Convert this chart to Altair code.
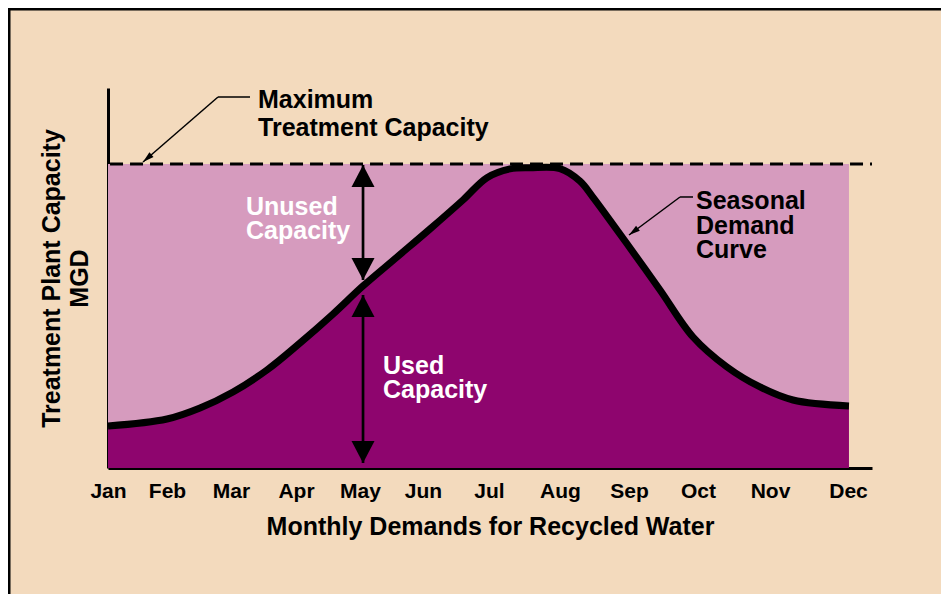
import altair as alt
import pandas as pd

# ---- data ----
months = ["Jan", "Feb", "Mar", "Apr", "May", "Jun", "Jul", "Aug", "Sep", "Oct", "Nov", "Dec"]
month_pos = [0, 0.876, 1.826, 2.791, 3.741, 4.676, 5.656, 6.710, 7.735, 8.759, 9.828, 10.986]

curve_x = [0, 0.876, 1.366, 1.856, 2.360, 2.850, 3.340, 3.786, 4.290, 4.780, 5.270, 5.626,
           5.968, 6.265, 6.710, 7.007, 7.198, 7.705, 8.195, 8.685, 9.189, 9.679, 10.169, 11.0]
curve_y = [11.05, 12.89, 15.79, 20.0, 25.79, 32.89, 40.5, 47.9, 55.5, 62.9, 70.53, 76.4,
           78.7, 79.0, 78.8, 75.5, 71.3, 59.0, 46.84, 34.47, 26.58, 21.32, 17.89, 16.32]
capacity = 80
x_max = 11.342

# vertical double arrows at May
arrow_x = [3.786, 3.786]
arrow_top = [79.74, 45.53]
arrow_bottom = [49.47, 1.32]

# annotation text
texts = ["Maximum", "Treatment Capacity", "Unused", "Capacity", "Used", "Capacity",
         "Seasonal", "Demand", "Curve"]
text_x = [2.227, 2.227, 2.049, 2.049, 4.083, 4.083, 8.729, 8.729, 8.729]
text_y = [96.84, 89.47, 68.68, 62.37, 26.84, 20.53, 70.26, 63.68, 57.37]
text_color = ["black", "black", "white", "white", "white", "white", "black", "black", "black"]

# leader lines (segments) for the callouts
lead_x = [1.633, 1.633, 8.492, 8.492]
lead_x2 = [2.108, 0.520, 8.685, 7.735]
lead_y = [97.63, 97.63, 71.32, 71.32]
lead_y2 = [97.63, 80.53, 71.32, 61.32]
lead_tip_x = [0.520, 7.735]
lead_tip_y = [80.53, 61.32]
lead_tip_angle = [229, 233]

# ---- styling ----
BG = "#F3DABD"
PINK = "#D69BBE"
PURPLE = "#8E056E"
FONT = "Liberation Sans"

curve = pd.DataFrame({"x": curve_x, "y": curve_y, "cap": [capacity] * len(curve_x)})

xs = alt.Scale(domain=[0, x_max], nice=False, zero=False)
ys = alt.Scale(domain=[0, 100], nice=False, zero=False)

label_expr = ""
for i in range(len(months) - 1):
    mid = (month_pos[i] + month_pos[i + 1]) / 2
    label_expr += f"datum.value < {mid:.4f} ? '{months[i]}' : "
label_expr += f"'{months[-1]}'"

x_axis = alt.Axis(values=month_pos, labelExpr=label_expr, ticks=False, grid=False,
                  domainColor="black", domainWidth=3, labelFont=FONT, labelFontSize=21,
                  labelFontWeight="bold", labelColor="black", labelPadding=12,
                  labelFlush=False, labelOverlap=False, labelBound=False,
                  title="Monthly Demands for Recycled Water", titleFont=FONT,
                  titleFontSize=25, titleFontWeight="bold", titleColor="black",
                  titlePadding=13)
y_axis = alt.Axis(labels=False, ticks=False, grid=False, domainColor="black", domainWidth=3,
                  title=["Treatment Plant Capacity", "MGD"], titleFont=FONT, titleFontSize=25,
                  titleFontWeight="bold", titleColor="black", titlePadding=16,
                  titleLineHeight=28)

base = alt.Chart(curve)
INTERP = "catmull-rom"

unused = base.mark_area(color=PINK, interpolate=INTERP).encode(
    x=alt.X("x:Q", scale=xs, axis=x_axis),
    y=alt.Y("y:Q", scale=ys, axis=y_axis),
    y2="cap:Q",
)
used = base.mark_area(color=PURPLE, interpolate=INTERP).encode(
    x=alt.X("x:Q", scale=xs), y=alt.Y("y:Q", scale=ys), y2=alt.datum(0)
)
cap_line = alt.Chart(pd.DataFrame({"c": [capacity]})).mark_rule(
    color="black", strokeWidth=3, strokeDash=[13, 7]
).encode(y=alt.Y("c:Q", scale=ys), x=alt.datum(0.03), x2=alt.datum(x_max))

line = base.mark_line(color="black", strokeWidth=7, interpolate=INTERP).encode(
    x=alt.X("x:Q", scale=xs), y=alt.Y("y:Q", scale=ys)
)

arrows = pd.DataFrame({"x": arrow_x, "top": arrow_top, "bottom": arrow_bottom})
shafts = alt.Chart(arrows).mark_rule(color="black", strokeWidth=2.7).encode(
    x=alt.X("x:Q", scale=xs), y=alt.Y("top:Q", scale=ys), y2="bottom:Q"
)
UP = "M0,0L0.575,1.1L-0.575,1.1Z"
DOWN = "M0,0L0.575,-1.1L-0.575,-1.1Z"
heads = pd.DataFrame({
    "x": arrow_x * 2,
    "y": arrow_top + arrow_bottom,
    "shape": [UP, UP, DOWN, DOWN],
})
head_marks = alt.Chart(heads).mark_point(filled=True, color="black", opacity=1,
                                         size=1600, strokeWidth=0).encode(
    x=alt.X("x:Q", scale=xs), y=alt.Y("y:Q", scale=ys),
    shape=alt.Shape("shape:N", scale=None),
)

leads = pd.DataFrame({"x": lead_x, "x2": lead_x2, "y": lead_y, "y2": lead_y2})
lead_marks = alt.Chart(leads).mark_rule(color="black", strokeWidth=1.5).encode(
    x=alt.X("x:Q", scale=xs), x2="x2:Q", y=alt.Y("y:Q", scale=ys), y2="y2:Q"
)
tips = pd.DataFrame({"x": lead_tip_x, "y": lead_tip_y, "a": lead_tip_angle})
tip_marks = alt.Chart(tips).mark_point(filled=True, color="black", opacity=1, size=500,
                                       strokeWidth=0, shape="M0,0L0.28,1L-0.28,1Z").encode(
    x=alt.X("x:Q", scale=xs), y=alt.Y("y:Q", scale=ys),
    angle=alt.Angle("a:Q", scale=None),
)

labels = pd.DataFrame({"x": text_x, "y": text_y, "t": texts, "c": text_color})
text_marks = alt.Chart(labels).mark_text(font=FONT, fontSize=25, fontWeight="bold",
                                         align="left", baseline="middle").encode(
    x=alt.X("x:Q", scale=xs), y=alt.Y("y:Q", scale=ys), text="t:N",
    color=alt.Color("c:N", scale=None),
)

frame = alt.Chart(pd.DataFrame({"k": [0]})).mark_rule(color="black", strokeWidth=3).encode(
    x=alt.value(-102), x2=alt.value(900), y=alt.value(-79)
)
frame_left = alt.Chart(pd.DataFrame({"k": [0]})).mark_rule(color="black", strokeWidth=3).encode(
    x=alt.value(-99), y=alt.value(-80), y2=alt.value(520)
)

chart = alt.layer(
    unused, used, cap_line, line, shafts, head_marks, lead_marks, tip_marks, text_marks,
    frame, frame_left,
).properties(
    width=764, height=380,
    autosize=alt.AutoSizeParams(type="none"),
    padding={"left": 100, "top": 80, "right": 69, "bottom": 126},
    background=BG,
).configure_view(stroke=None)

chart.save("out.html", embed_options={"renderer": "svg", "actions": False})
